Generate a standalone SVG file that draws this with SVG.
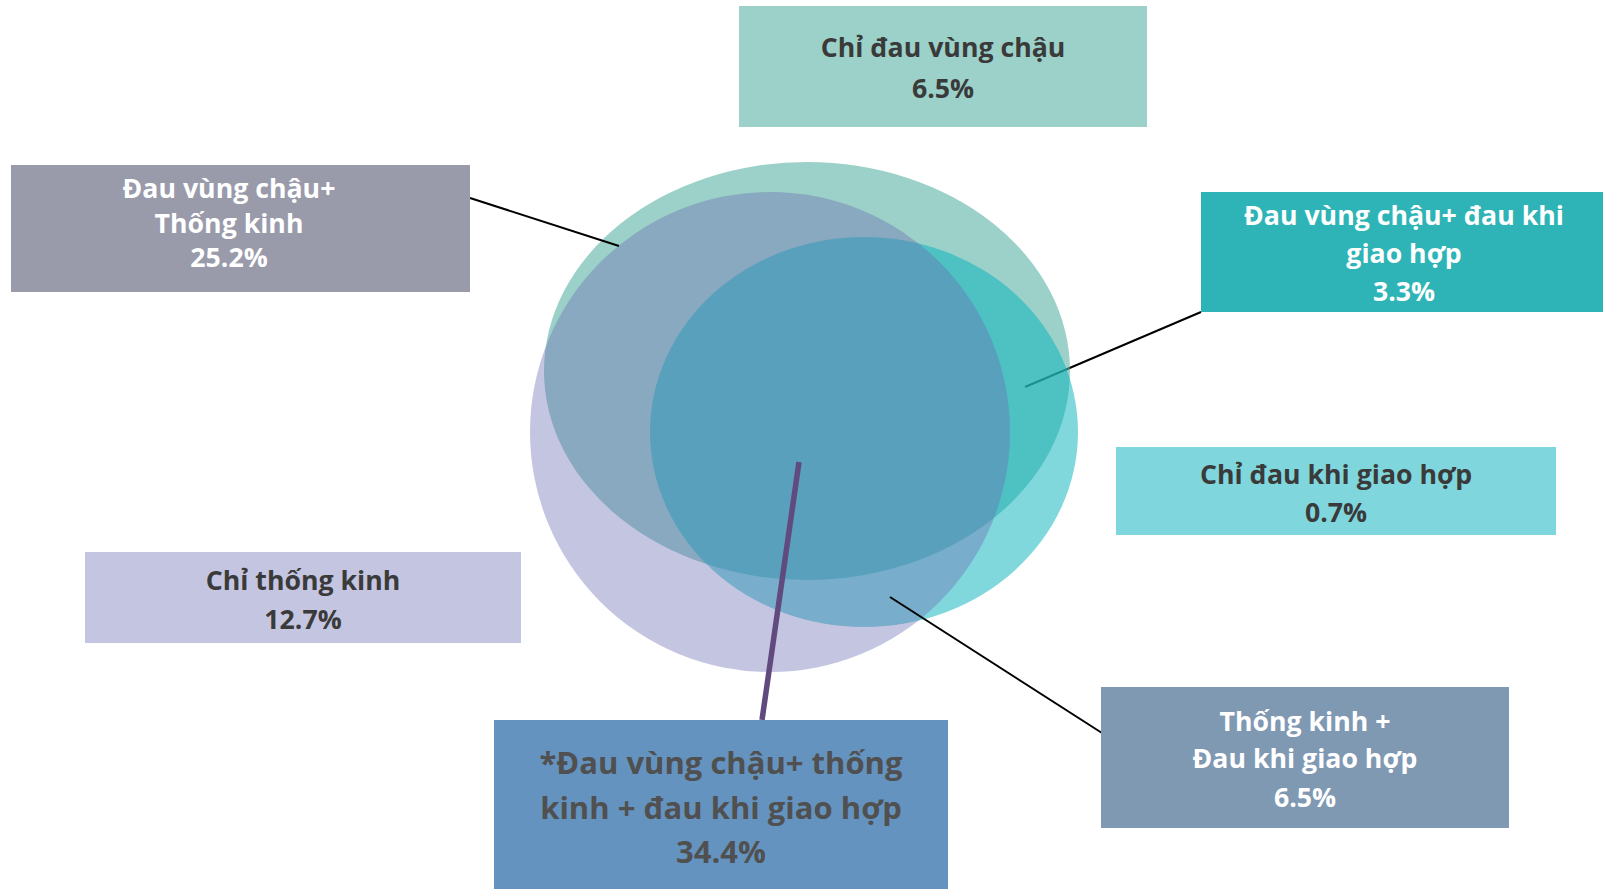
<svg xmlns="http://www.w3.org/2000/svg" width="1603" height="889" viewBox="0 0 1603 889">
<style>
text{font-family:"Open Sans","Liberation Sans",sans-serif;font-weight:bold;text-anchor:middle;}
.t{font-size:26.7px;}
.big{font-size:31px;fill:#505050;}
.dark{fill:#3A3A3A;}
.white{fill:#FFFFFF;}
.conn{stroke:#000;stroke-width:2;fill:none;}
</style>
<rect width="1603" height="889" fill="#FFFFFF"/>
<g id="connectors-under">
<line class="conn" x1="1201" y1="312" x2="1025" y2="387"/>
</g>
<g id="sets">
<ellipse id="set-pelvic" cx="807" cy="371" rx="263" ry="209" fill="#58B2A3" fill-opacity="0.6"/>
<ellipse id="set-dyspareunia" cx="864" cy="432" rx="214" ry="195" fill="#01B1BB" fill-opacity="0.5"/>
<circle id="set-dysmenorrhea" cx="770" cy="432" r="240" fill="#6B6EB4" fill-opacity="0.4"/>
</g>
<g id="connectors">
<line class="conn" x1="470" y1="198" x2="619" y2="246"/>
<line class="conn" x1="890" y1="597" x2="1102" y2="733"/>
<line x1="799" y1="462" x2="762" y2="720" stroke="#614A7E" stroke-width="5.5"/>
</g>
<g id="node-pelvic-only">
<rect x="739" y="6" width="408" height="121" fill="#9BD1C8"/>
<text class="t dark" x="943" y="57">Chỉ đau vùng chậu</text>
<text class="t dark" x="943" y="98">6.5%</text>
</g>
<g id="node-pelvic-dysmenorrhea">
<rect x="11" y="165" width="459" height="127" fill="#999AAA"/>
<text class="t white" x="229" y="197.500">Đau vùng chậu+</text>
<text class="t white" x="229" y="232.500">Thống kinh</text>
<text class="t white" x="229" y="266.500">25.2%</text>
</g>
<g id="node-pelvic-dyspareunia">
<rect x="1201" y="192" width="402" height="120" fill="#2EB4B6"/>
<text class="t white" x="1404" y="225">Đau vùng chậu+ đau khi</text>
<text class="t white" x="1404" y="263">giao hợp</text>
<text class="t white" x="1404" y="301">3.3%</text>
</g>
<g id="node-dyspareunia-only">
<rect x="1116" y="447" width="440" height="88" fill="#7FD7DD"/>
<text class="t dark" x="1336" y="484">Chỉ đau khi giao hợp</text>
<text class="t dark" x="1336" y="522">0.7%</text>
</g>
<g id="node-dysmenorrhea-only">
<rect x="85" y="552" width="436" height="91" fill="#C4C5E1"/>
<text class="t dark" x="303" y="590">Chỉ thống kinh</text>
<text class="t dark" x="303" y="629">12.7%</text>
</g>
<g id="node-all-three">
<rect x="494" y="720" width="454" height="169" fill="#6593BF"/>
<text class="big" x="721" y="774">*Đau vùng chậu+ thống</text>
<text class="big" x="721" y="819">kinh + đau khi giao hợp</text>
<text class="big" x="721" y="863">34.4%</text>
</g>
<g id="node-dysmenorrhea-dyspareunia">
<rect x="1101" y="687" width="408" height="141" fill="#7F99B3"/>
<text class="t white" x="1305" y="731">Thống kinh +</text>
<text class="t white" x="1305" y="768">Đau khi giao hợp</text>
<text class="t white" x="1305" y="807">6.5%</text>
</g>
</svg>
